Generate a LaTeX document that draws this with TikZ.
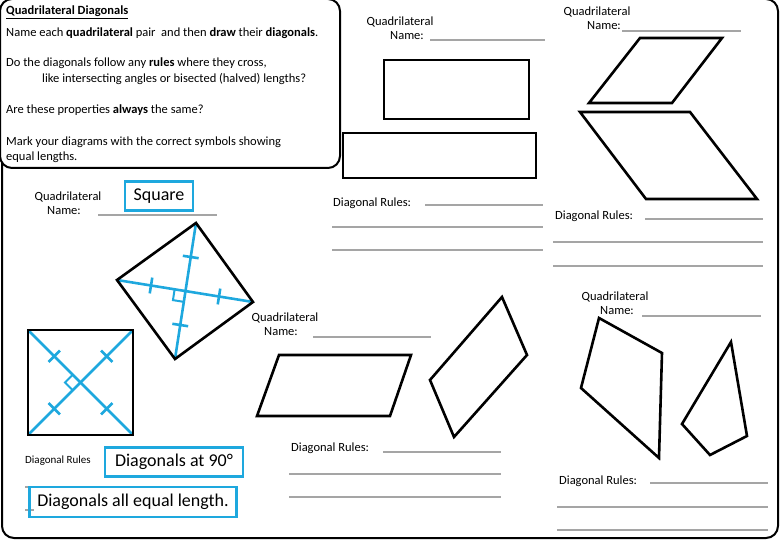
\documentclass[tikz,border=0pt]{standalone}
\usepackage{fontspec}
\setmainfont{Carlito}
\usetikzlibrary{calc}
\definecolor{bl}{RGB}{30,168,222}
\definecolor{gl}{RGB}{165,165,165}
\tikzset{
 quadline/.style={draw=black,line width=2.6pt,line join=miter},
 diag/.style={draw=bl,line width=2.6pt},
 gline/.style={draw=gl,line width=2.6pt},
 txt/.style={inner sep=0pt,font=\fontsize{12.5}{14.5}\selectfont},
 ctxt/.style={txt,align=center},
 bbox/.style={draw=bl,line width=2.6pt,inner sep=3pt,font=\fontsize{18}{20}\selectfont},
}
\newcommand{\tickmarks}[2]{%
 \draw[diag] ($(#1)!0.25!(#2)!8pt!90:(#2)$) -- ($(#1)!0.25!(#2)!8pt!-90:(#2)$);
 \draw[diag] ($(#1)!0.75!(#2)!8pt!90:(#2)$) -- ($(#1)!0.75!(#2)!8pt!-90:(#2)$);}
\newcommand{\rmark}[3]{%
 \coordinate (ra) at ($(#1)!11pt!(#2)$); \coordinate (rb) at ($(#1)!11pt!(#3)$);
 \draw[diag,line width=2pt] (ra) -- ($(ra)+(rb)-(#1)$) -- (rb);}
\begin{document}
\begin{tikzpicture}[x=1pt,y=-1pt]
\useasboundingbox (0,0) rectangle (780,540);
\draw[line width=2pt,rounded corners=12] (2,-1) rectangle (778,538);
\draw[line width=2pt,rounded corners=12,fill=white] (0,-1) rectangle (340,168);
\node[txt,anchor=west] (t0) at (6,12) {\underline{\textbf{Quadrilateral Diagonals}}};
\node[txt,anchor=west] (t1) at (6,33) {Name each \textbf{quadrilateral} pair\ \ and then \textbf{draw} their \textbf{diagonals}.};
\node[txt,anchor=west] (t2) at (6,63) {Do the diagonals follow any \textbf{rules} where they cross,};
\node[txt,anchor=west] (t3) at (42,79) {like intersecting angles or bisected (halved) lengths?};
\node[txt,anchor=west] (t4) at (6,110) {Are these properties \textbf{always} the same?};
\node[txt,anchor=west] (t5) at (6,142) {Mark your diagrams with the correct symbols showing};
\node[txt,anchor=west] (t6) at (6,157) {equal lengths.};
% top middle
\node[ctxt] (n1) at (400,28) {Quadrilateral\\\hspace*{14pt}Name:};
\draw[gline] (430,40) -- (545,40);
\draw[quadline] (384,60) rectangle (529,119);
\draw[quadline] (343,133) rectangle (536,178);
\node[txt,anchor=west] (dr1) at (333,203) {Diagonal Rules:};
\draw[gline] (425,205) -- (543,205);
\draw[gline] (332,227) -- (543,227);
\draw[gline] (332,250) -- (543,250);
% top right
\node[ctxt] (n2) at (597,18) {Quadrilateral\\\hspace*{14pt}Name:};
\draw[gline] (622,31) -- (741,31);
\draw[quadline] (640,38) -- (722,38) -- (672,103) -- (589,103) -- cycle;
\draw[quadline] (580,112) -- (690,112) -- (757,199) -- (646,199) -- cycle;
\node[txt,anchor=west] (dr2) at (555,216) {Diagonal Rules:};
\draw[gline] (645,219) -- (763,219);
\draw[gline] (553,242) -- (763,242);
\draw[gline] (553,266) -- (763,266);
% left: squares
\node[ctxt] (n3) at (68,203) {Quadrilateral\\Name:\hspace*{8pt}};
\draw[gline] (98,215) -- (217,215);
\node[bbox,minimum width=68pt,minimum height=29pt] (sq) at (159,196) {Square};
\coordinate (A) at (196,223); \coordinate (B) at (253,302);
\coordinate (C) at (175,359); \coordinate (D) at (117,280);
\coordinate (O) at (185.5,291);
\draw[diag] (A) -- (C); \draw[diag] (D) -- (B);
\tickmarks{A}{C} \tickmarks{D}{B}
\rmark{O}{D}{C}
\draw[quadline] (A) -- (B) -- (C) -- (D) -- cycle;
\coordinate (P) at (28,330); \coordinate (Q) at (133,330);
\coordinate (R) at (133,435); \coordinate (S) at (28,435);
\coordinate (M) at (80.5,382.5);
\draw[diag] (P) -- (R); \draw[diag] (Q) -- (S);
\tickmarks{P}{R} \tickmarks{Q}{S}
\rmark{M}{P}{S}
\draw[quadline] (P) rectangle (R);
\node[txt,anchor=west,font=\fontsize{11}{13}\selectfont] (dr3) at (25,461) {Diagonal Rules};
\draw[gline] (25,487) -- (34,487);
\draw[gline] (25,510) -- (34,510);
\node[bbox,minimum width=138pt,minimum height=29pt] (b1) at (174,462) {Diagonals at 90°};
\node[bbox,minimum width=207pt,minimum height=30pt] (b2) at (133,502) {Diagonals all equal length.};
% bottom middle
\node[ctxt] (n4) at (285,324) {Quadrilateral\\Name:\hspace*{8pt}};
\draw[gline] (313,337) -- (431,337);
\draw[quadline] (279,355) -- (411,355) -- (390,416) -- (257,416) -- cycle;
\draw[quadline] (502,297) -- (527,355) -- (454,437) -- (430,380) -- cycle;
\node[txt,anchor=west] (dr4) at (291,448) {Diagonal Rules:};
\draw[gline] (383,452) -- (501,452);
\draw[gline] (289,474) -- (501,474);
\draw[gline] (289,497) -- (501,497);
% bottom right
\node[ctxt] (n5) at (615,303) {Quadrilateral\\\hspace*{4pt}Name:};
\draw[gline] (642,316) -- (761,316);
\draw[quadline] (599,318) -- (662,353) -- (659,458) -- (581,388) -- cycle;
\draw[quadline] (731,342) -- (747,436) -- (710,455) -- (682,424) -- cycle;
\node[txt,anchor=west] (dr5) at (559,481) {Diagonal Rules:};
\draw[gline] (650,483) -- (768,483);
\draw[gline] (557,507) -- (768,507);
\draw[gline] (557,530) -- (768,530);
\end{tikzpicture}
\end{document}
